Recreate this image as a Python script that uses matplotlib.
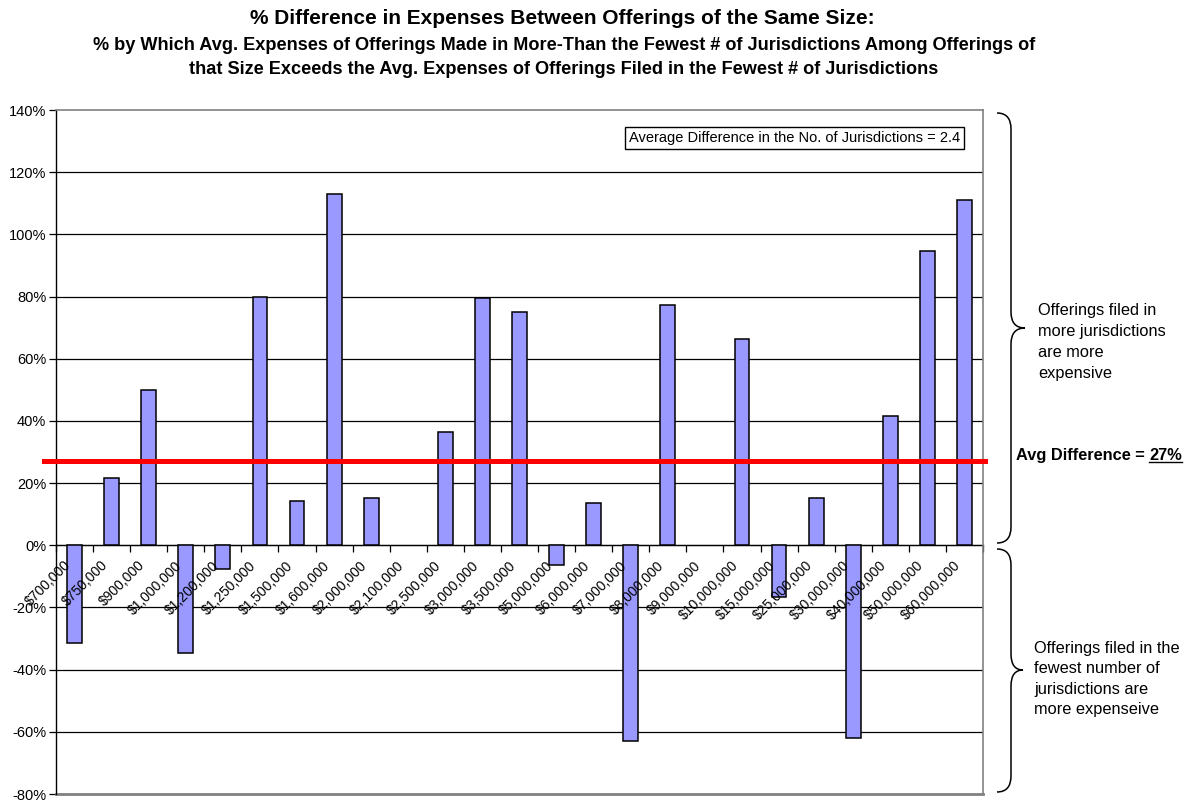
import matplotlib
matplotlib.use("Agg")
import matplotlib.pyplot as plt
from matplotlib.path import Path
from matplotlib.patches import PathPatch
from matplotlib.lines import Line2D
import matplotlib.transforms as mtransforms
import numpy as np

plt.rcParams['font.family'] = ['Liberation Sans', 'DejaVu Sans']

# Offering sizes
sizes = ["$700,000", "$750,000", "$900,000", "$1,000,000", "$1,200,000", "$1,250,000",
         "$1,500,000", "$1,600,000", "$2,000,000", "$2,100,000", "$2,500,000",
         "$3,000,000", "$3,500,000", "$5,000,000", "$6,000,000", "$7,000,000",
         "$8,000,000", "$9,000,000", "$10,000,000", "$15,000,000", "$25,000,000",
         "$30,000,000", "$40,000,000", "$50,000,000", "$60,000,000"]

# % by which multi-jurisdiction offerings' expenses exceed fewest-jurisdiction ones
pct_diff = [-31.5, 21.7, 50.0, -34.5, -7.5, 80.0, 14.1, 113.1, 15.1, 0.0, 36.5,
            79.5, 75.0, -6.4, 13.6, -62.9, 77.4, 0.0, 66.5, -16.7, 15.2,
            -62.0, 41.6, 94.8, 111.0]

avg_diff = 27
avg_juris_diff = 2.4
y_ticks = [-80, -60, -40, -20, 0, 20, 40, 60, 80, 100, 120, 140]

W, H = 1194, 801
fig = plt.figure(figsize=(W / 100, H / 100), dpi=100)

def fx(px):
    return px / W

def fy(py):
    return 1 - py / H

ax_l, ax_r, ax_t, ax_b = 56, 983, 110, 794
ax = fig.add_axes([fx(ax_l), fy(ax_b), fx(ax_r - ax_l), (ax_b - ax_t) / H])

n = len(sizes)
x = np.arange(n)
ax.set_xlim(-0.5, n - 0.5)
ax.set_ylim(y_ticks[0], y_ticks[-1])

# category axis sits on the zero line
ax.spines['bottom'].set_position(('data', 0))
ax.spines['bottom'].set_color('black')
ax.spines['bottom'].set_linewidth(0.9)
ax.spines['bottom'].set_zorder(2)

# horizontal gridlines
for yv in y_ticks[1:-1]:
    ax.axhline(yv, color='black', lw=0.9, zorder=1)

heights = np.array(pct_diff)
nz = heights != 0
ax.bar(x[nz], heights[nz], width=0.4, color='#9999FF', edgecolor='black',
       linewidth=1.1, zorder=3)

# frame
for s in ['top', 'right']:
    ax.spines[s].set_color('#808080')
    ax.spines[s].set_linewidth(1.2)
ax.spines['left'].set_color('black')
ax.spines['left'].set_linewidth(1.0)
ax.axhline(y_ticks[0], color='#808080', lw=2.0, zorder=2, clip_on=False)

ax.set_yticks(y_ticks)
ax.set_yticklabels([f"{v}%" for v in y_ticks], fontsize=10.5)
ax.tick_params(axis='y', direction='out', length=5, width=0.9, pad=2)

# tick marks between categories; category names drawn over the bars
ax.set_xticks(np.arange(n + 1) - 0.5)
ax.set_xticklabels([])
ax.tick_params(axis='x', which='major', direction='out', length=5, width=0.9)
lbl_off = mtransforms.ScaledTranslation(-11 / 100, -13 / 100, fig.dpi_scale_trans)
for xi, name in zip(x, sizes):
    ax.text(xi, 0, name, transform=ax.transData + lbl_off, fontsize=10,
            rotation=45, ha='right', va='top', rotation_mode='anchor',
            zorder=4, clip_on=False)

# average difference line
blend = mtransforms.blended_transform_factory(fig.transFigure, ax.transData)
ax.add_line(Line2D([fx(44), fx(985)], [avg_diff, avg_diff], transform=blend,
                   color='#FF0000', lw=3.6, zorder=5, clip_on=False))

# jurisdictions note
ax.text(fx(629), fy(138), f"Average Difference in the No. of Jurisdictions = {avg_juris_diff}",
        transform=fig.transFigure, fontsize=10.5, ha='left', va='center',
        bbox=dict(boxstyle='square,pad=0.25', fc='white', ec='black', lw=1.0), zorder=6)

# titles
fig.text(fx(562), fy(19), "% Difference in Expenses Between Offerings of the Same Size:",
         ha='center', va='center', fontsize=15, fontweight='bold')
fig.text(fx(564), fy(46), "% by Which Avg. Expenses of Offerings Made in More-Than the Fewest # of Jurisdictions Among Offerings of",
         ha='center', va='center', fontsize=13.1, fontweight='bold')
fig.text(fx(564), fy(69), "that Size Exceeds the Avg. Expenses of Offerings Filed in the Fewest # of Jurisdictions",
         ha='center', va='center', fontsize=13.1, fontweight='bold')

# curly braces on the right
def brace(x0, xv, xt, ytop, ymid, ybot, r=16):
    pts = [(x0, ytop), (xv, ytop), (xv, ytop + r),
           (xv, ymid - r),
           (xv, ymid), (xt, ymid),
           (xv, ymid), (xv, ymid + r),
           (xv, ybot - r),
           (xv, ybot), (x0, ybot)]
    codes = [Path.MOVETO, Path.CURVE3, Path.CURVE3,
             Path.LINETO,
             Path.CURVE3, Path.CURVE3,
             Path.CURVE3, Path.CURVE3,
             Path.LINETO,
             Path.CURVE3, Path.CURVE3]
    verts = [(fx(a), fy(b)) for a, b in pts]
    fig.add_artist(PathPatch(Path(verts, codes), transform=fig.transFigure,
                             fc='none', ec='black', lw=1.1))

brace(997, 1011, 1025, 113, 328, 543)
brace(997, 1011, 1023, 549, 670, 792)

fig.text(fx(1038), fy(303), "Offerings filed in\nmore jurisdictions\nare more\nexpensive",
         ha='left', va='top', fontsize=11.8, linespacing=1.49)
fig.text(fx(1034), fy(641), "Offerings filed in the\nfewest number of\njurisdictions are\nmore expenseive",
         ha='left', va='top', fontsize=11.8, linespacing=1.45)

# average label with underlined value
t1 = fig.text(fx(1016), fy(455), "Avg Difference = ", ha='left', va='center',
              fontsize=11.8, fontweight='bold')
fig.canvas.draw()
r = fig.canvas.get_renderer()
bb = t1.get_window_extent(r)
t2 = fig.text(bb.x1 / W, fy(455), f"{avg_diff}%", ha='left', va='center',
              fontsize=11.8, fontweight='bold')
bb2 = t2.get_window_extent(r)
uy = bb2.y0 + 1
fig.add_artist(Line2D([bb2.x0 / W, bb2.x1 / W], [uy / H, uy / H],
                      transform=fig.transFigure, color='black', lw=1.0))

fig.savefig("out.png", dpi=100)
